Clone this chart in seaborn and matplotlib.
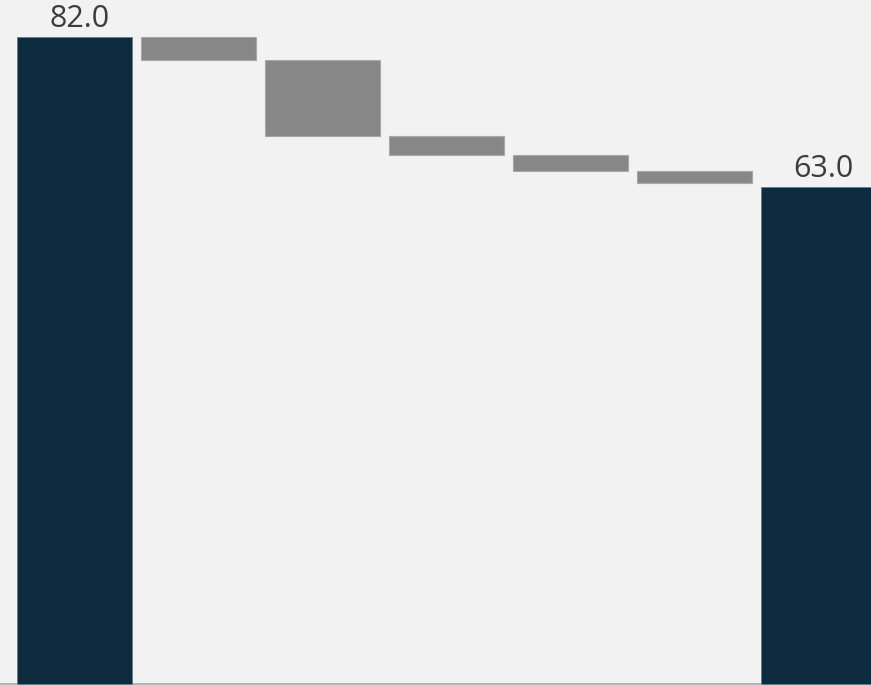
import numpy as np
import pandas as pd
import matplotlib
matplotlib.use("Agg")
import matplotlib.pyplot as plt
import seaborn as sns

# Waterfall: start total, five reductions, end total
steps = ["Start", "Step 1", "Step 2", "Step 3", "Step 4", "Step 5", "End"]
start_value = 82.0
changes = [-3.0, -9.6, -2.4, -2.0, -1.5]
end_value = 63.0

sns.set_theme(style="white")
plt.rcParams["font.family"] = ["Open Sans", "DejaVu Sans"]

bg = "#f2f2f2"
dark = "#0e2c40"
grey = "#878787"

# floating bars for the changes
levels = np.concatenate([[start_value], start_value + np.cumsum(changes)])
change_df = pd.DataFrame({
    "step": steps[1:-1],
    "height": np.abs(changes),
    "bottom": np.minimum(levels[:-1], levels[1:]),
})
total_df = pd.DataFrame({"step": [steps[0], steps[-1]], "height": [start_value, end_value]})

fig = plt.figure(figsize=(8.71, 6.85), dpi=100, facecolor=bg)
ax = fig.add_axes([0, 0, 1, 1])
ax.set_facecolor(bg)

sns.barplot(data=total_df, x="step", y="height", order=steps, color=dark,
            saturation=1, width=0.927, edgecolor="#6b7a84", linewidth=0.6, ax=ax)
sns.barplot(data=change_df, x="step", y="height", order=steps, color=grey,
            saturation=1, width=0.927, bottom=change_df["bottom"].values,
            edgecolor="#a8a8a8", linewidth=0.8, ax=ax)

for step, val in zip(total_df["step"], total_df["height"]):
    ax.text(steps.index(step) + 0.04, val + 0.3, f"{val:.1f}", ha="center",
            va="bottom", fontsize=22, color="#3c3c3c")

ax.axhline(0, color="#a9a9a9", lw=1.2, zorder=0.5)
ax.set_xlim(-0.601, 6.42)
ax.set_ylim(-0.12, 86.65)
ax.set_xlabel("")
ax.set_ylabel("")
ax.set_xticks([])
ax.set_yticks([])
for s in ax.spines.values():
    s.set_visible(False)

fig.savefig("out.png", dpi=100, facecolor=bg)
